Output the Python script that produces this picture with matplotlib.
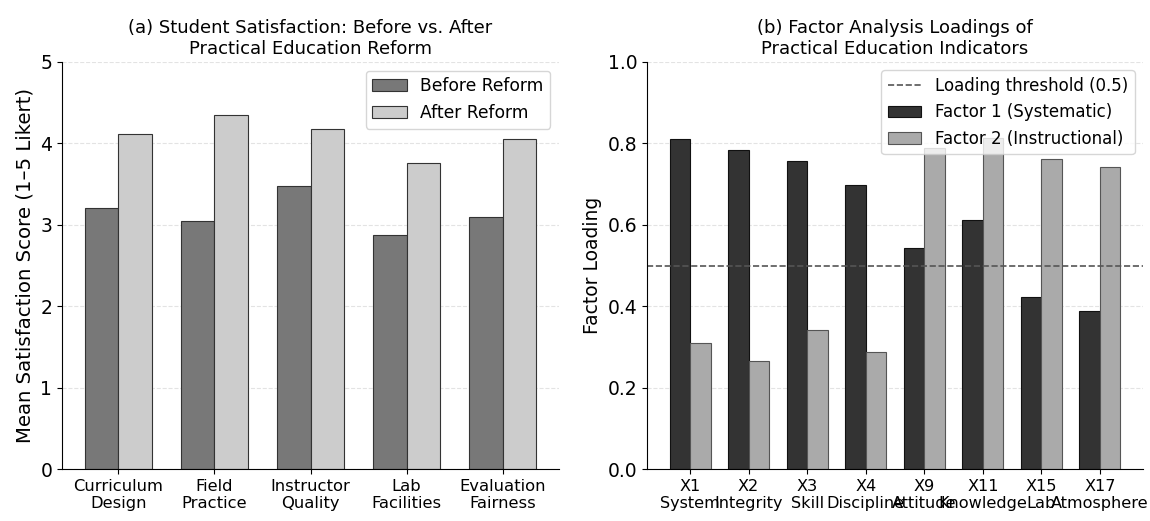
import matplotlib
matplotlib.use('Agg')
import matplotlib.pyplot as plt
import numpy as np

# panel (a) data
dimensions = ['Curriculum\nDesign', 'Field\nPractice', 'Instructor\nQuality', 'Lab\nFacilities', 'Evaluation\nFairness']
before_reform = [3.21, 3.05, 3.48, 2.88, 3.10]
after_reform = [4.12, 4.35, 4.18, 3.76, 4.05]

# panel (b) data
indicators = ['X1\nSystem', 'X2\nIntegrity', 'X3\nSkill', 'X4\nDiscipline',
              'X9\nAttitude', 'X11\nKnowledge', 'X15\nLab', 'X17\nAtmosphere']
factor1 = [0.811, 0.784, 0.757, 0.698, 0.542, 0.612, 0.423, 0.388]
factor2 = [0.310, 0.265, 0.342, 0.288, 0.789, 0.813, 0.762, 0.742]
threshold = 0.5

fig = plt.figure(figsize=(11.5, 5.21), dpi=100)
ax1 = fig.add_axes([62 / 1150, 0.0998, 497 / 1150, 0.7812])
ax2 = fig.add_axes([647 / 1150, 0.0998, 496 / 1150, 0.7812])
w = 0.35

x = np.arange(len(dimensions))
ax1.bar(x - w / 2, before_reform, w, color='#787878', edgecolor='#333333', linewidth=0.8, label='Before Reform')
ax1.bar(x + w / 2, after_reform, w, color='#cccccc', edgecolor='#333333', linewidth=0.8, label='After Reform')
ax1.set_xticks(x)
ax1.set_xticklabels(dimensions, fontsize=11.8)
ax1.set_ylim(0, 5)
ax1.tick_params(axis='y', labelsize=13.5)
ax1.set_ylabel('Mean Satisfaction Score (1\u20135 Likert)', fontsize=14.2)
ax1.set_title('(a) Student Satisfaction: Before vs. After\nPractical Education Reform', fontsize=13)
ax1.legend(fontsize=12.3, loc='upper right')
ax1.grid(axis='y', linestyle='--', alpha=0.35)
ax1.set_axisbelow(True)
ax1.spines['top'].set_visible(False)
ax1.spines['right'].set_visible(False)

x2 = np.arange(len(indicators))
ax2.axhline(threshold, color='#555555', linestyle='--', linewidth=1.2, label='Loading threshold (0.5)')
ax2.bar(x2 - w / 2, factor1, w, color='#333333', edgecolor='#111111', linewidth=0.8, label='Factor 1 (Systematic)')
ax2.bar(x2 + w / 2, factor2, w, color='#aaaaaa', edgecolor='#555555', linewidth=0.8, label='Factor 2 (Instructional)')
ax2.set_xticks(x2)
ax2.set_xticklabels(indicators, fontsize=11.6)
ax2.set_ylim(0, 1.0)
ax2.tick_params(axis='y', labelsize=13.5)
ax2.set_ylabel('Factor Loading', fontsize=13.5)
ax2.set_title('(b) Factor Analysis Loadings of\nPractical Education Indicators', fontsize=13)
ax2.legend(fontsize=12, loc='upper right')
ax2.grid(axis='y', linestyle='--', alpha=0.35)
ax2.set_axisbelow(True)
ax2.spines['top'].set_visible(False)
ax2.spines['right'].set_visible(False)

plt.savefig('out.png', dpi=100)
